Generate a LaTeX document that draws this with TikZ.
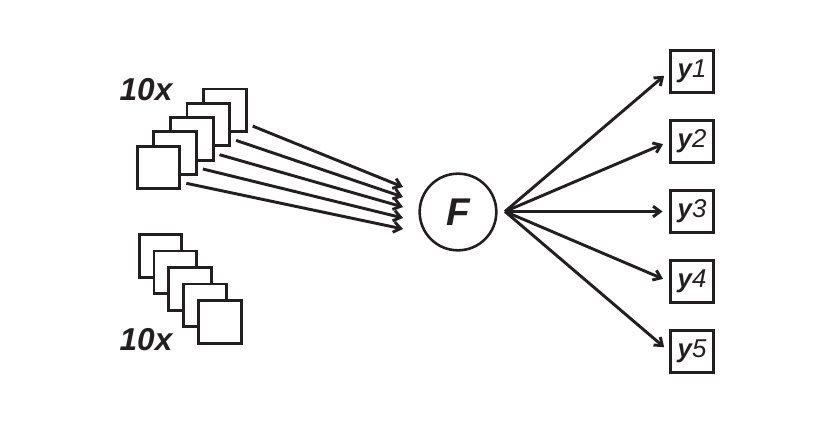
\documentclass[tikz,border=0pt]{standalone}
\usepackage{fontspec}
\setmainfont{Liberation Sans}
\usetikzlibrary{arrows.meta}
\definecolor{ink}{RGB}{35,31,32}
\tikzset{
  frame/.style={draw=ink,line width=2.5pt,fill=white,minimum size=1.28cm,inner sep=0pt},
  link/.style={draw=ink,line width=2.5pt,-{Straight Barb[length=6pt,width=9pt]}},
  lbl/.style={text=ink,font=\fontsize{27}{27}\selectfont\bfseries\itshape}
}
\begin{document}
\begin{tikzpicture}[x=0.03cm,y=-0.03cm]
  \useasboundingbox (0,0) rectangle (831,424);
  % Upper stack of inputs
  \foreach \i in {4,3,2,1,0}
    \node[frame] (u\i) at (158.5+16.6*\i,167.5-14.3*\i) {};
  \node[lbl] (ucount) at (146,90) {10x};
  % Lower stack of inputs
  \foreach \i in {0,...,4}
    \node[frame] (l\i) at (160.5+14.8*\i,255.8+16.5*\i) {};
  \node[lbl] (lcount) at (146,340) {10x};
  % Function node
  \node[draw=ink,line width=2.2pt,circle,minimum size=2.3cm,inner sep=0pt,
        text=ink,font=\fontsize{33}{33}\selectfont\bfseries\itshape] (F) at (458,212) {F};
  % Arrow tips in front of F
  \coordinate (t0) at (403,229);
  \coordinate (t1) at (403,218);
  \coordinate (t2) at (403,207);
  \coordinate (t3) at (403,197);
  \coordinate (t4) at (403,187);
  \foreach \i in {0,...,4}
    \draw[link] ([shift={(5,-7)}]u\i.south east) -- (t\i);
  % Outputs
  \coordinate (fo) at (505,211.5);
  \foreach \k in {1,...,5} {
    \node[frame,text=ink,font=\fontsize{22}{22}\selectfont\itshape] (y\k) at (692,1.5+70*\k) {\textbf{y}\k};
    \draw[link,shorten >=0.2cm] (fo) -- (y\k.west);
  }
\end{tikzpicture}
\end{document}
